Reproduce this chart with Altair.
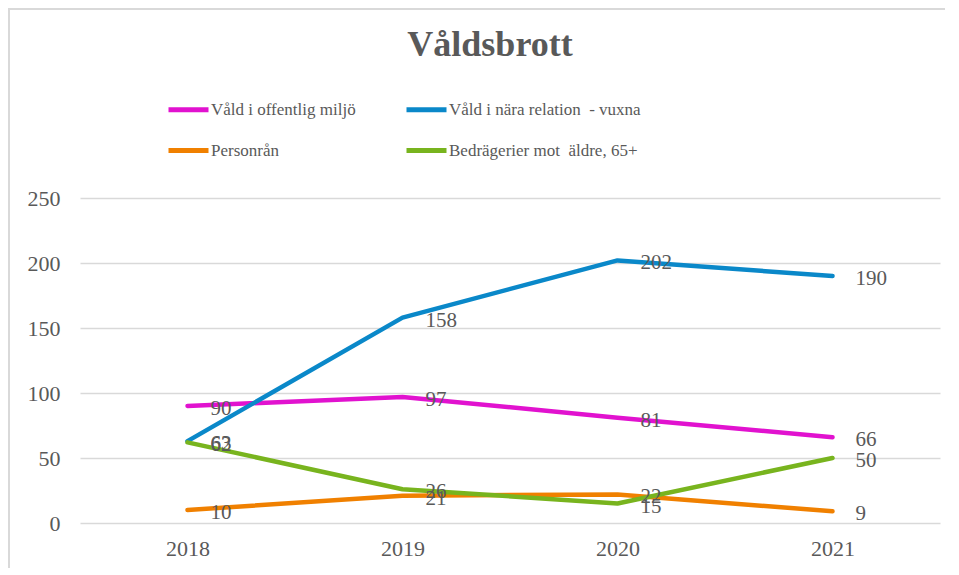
import altair as alt
import pandas as pd

years = ["2018", "2019", "2020", "2021"]
series_names = [
    "Våld i offentlig miljö",
    "Våld i nära relation\u00a0 - vuxna",
    "Personrån",
    "Bedrägerier mot\u00a0 äldre, 65+",
]
offentlig = [90, 97, 81, 66]
nara = [63, 158, 202, 190]
personran = [10, 21, 22, 9]
bedragerier = [62, 26, 15, 50]
colors = ["#E112CF", "#0A88C9", "#F08000", "#78B41E"]

rows = []
for name, vals in zip(series_names, [offentlig, nara, personran, bedragerier]):
    for y, v in zip(years, vals):
        rows.append({"Year": y, "Serie": name, "Value": v})
df = pd.DataFrame(rows)

# legend fills column by column: order so rows read offentlig|nära, Personrån|Bedrägerier
legend_order = [0, 2, 1, 3]
dom = [series_names[i] for i in legend_order]
rng = [colors[i] for i in legend_order]

FONT = "Liberation Serif"
GRAY = "#595959"

x_enc = alt.X("Year:O", scale=alt.Scale(type="point", padding=0.5),
              axis=alt.Axis(title=None, labelAngle=0, ticks=False, domain=False,
                            grid=False, labelPadding=15))
y_enc = alt.Y("Value:Q", scale=alt.Scale(domain=[0, 250], nice=False),
              axis=alt.Axis(title=None, values=[0, 50, 100, 150, 200, 250],
                            ticks=False, domain=False, grid=True,
                            labelPadding=20))
color_enc = alt.Color("Serie:N",
                      scale=alt.Scale(domain=dom, range=rng),
                      legend=alt.Legend(title=None, orient="none", legendX=86, legendY=-111,
                                        columns=2, columnPadding=40, rowPadding=8,
                                        symbolType="stroke", symbolStrokeWidth=5,
                                        symbolSize=1600, labelOffset=0, labelLimit=400,
                                        labelFontSize=17, labelColor=GRAY, labelFont=FONT))

base = alt.Chart(df)
lines = base.mark_line(strokeWidth=4.5, strokeCap="round", strokeJoin="round").encode(
    x=x_enc, y=y_enc, color=color_enc, order=alt.Order("Year:O")
)
labels = base.mark_text(align="left", baseline="middle", dx=23, dy=3,
                        fontSize=21, font=FONT, color=GRAY).encode(
    x=alt.X("Year:O"), y=alt.Y("Value:Q"), text=alt.Text("Value:Q")
)

border_df = pd.DataFrame({"k": [0]})
left_border = alt.Chart(border_df).mark_rule(color="#D9D9D9", strokeWidth=2).encode(
    x=alt.value(-71), y=alt.value(-190), y2=alt.value(400)
)
top_border = alt.Chart(border_df).mark_rule(color="#D9D9D9", strokeWidth=2).encode(
    x=alt.value(-72), x2=alt.value(880), y=alt.value(-189)
)

chart = alt.layer(left_border, top_border, lines, labels).properties(
    width=860, height=325,
    title=alt.TitleParams("Våldsbrott", font=FONT, fontSize=36, fontWeight="bold",
                          color=GRAY, anchor="middle", dx=-20, offset=-57),
    autosize=alt.AutoSizeParams(type="none"),
    padding={"left": 72, "top": 190, "right": 5, "bottom": 45},
).configure_view(stroke=None).configure_axis(
    labelFont=FONT, labelFontSize=22, labelColor=GRAY,
    gridColor="#D9D9D9", gridWidth=1.5
)

chart.save("out.html", embed_options={"renderer": "svg", "actions": False})
